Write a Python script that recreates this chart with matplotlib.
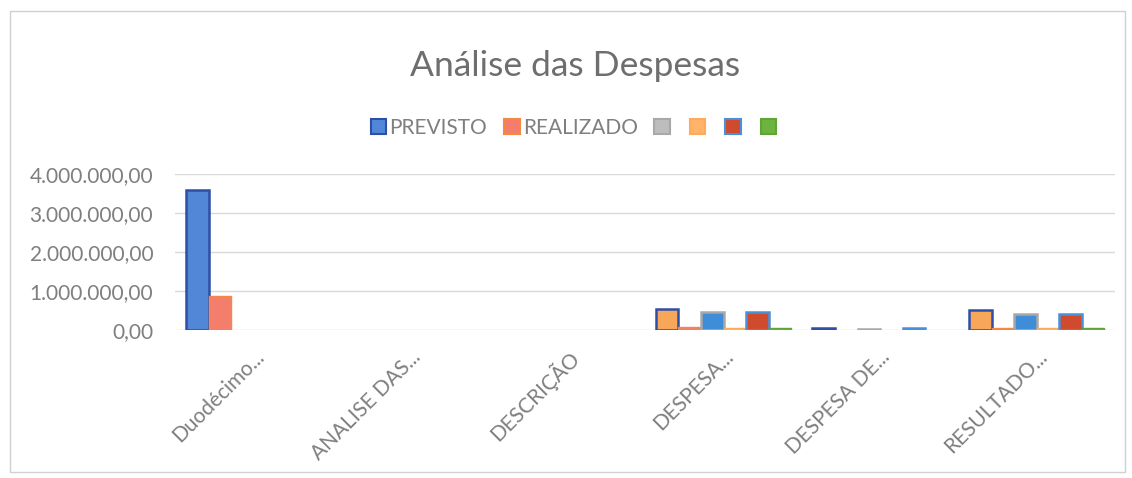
import matplotlib.pyplot as plt
import numpy as np
from matplotlib.patches import Patch, Rectangle
from matplotlib.ticker import FuncFormatter

plt.rcParams['font.family'] = ['Lato', 'DejaVu Sans']

categories = ['Duodécimo...', 'ANALISE DAS...', 'DESCRIÇÃO', 'DESPESA...', 'DESPESA DE...', 'RESULTADO...']
series_names = ['PREVISTO', 'REALIZADO', '', '', '', '']
previsto = [3580000, 0, 0, 540000, 35000, 500000]
realizado = [880000, 0, 0, 60000, 0, 50000]
serie3 = [0, 0, 0, 470000, 30000, 410000]
serie4 = [0, 0, 0, 50000, 0, 45000]
serie5 = [0, 0, 0, 450000, 35000, 410000]
serie6 = [0, 0, 0, 55000, 0, 45000]
values = [previsto, realizado, serie3, serie4, serie5, serie6]

# per-point fills as seen in the chart
blue, orange, grey, red, salmon, green = '#5287D8', '#F8A65A', '#B4B4B4', '#D04B2E', '#F47D6C', '#6DB33F'
faces = [
    [blue, blue, blue, orange, '#4A8FDA', orange],
    [salmon] * 6,
    ['#3F8DD8', '#3F8DD8', '#3F8DD8', '#3F8DD8', grey, '#3F8DD8'],
    ['#FFB469'] * 6,
    [red, red, red, red, '#4A8FDA', red],
    [green] * 6,
]
edges = ['#2E4FA6', '#F28A45', '#A8A8A8', '#FFA95A', '#4A8FDA', '#5EA437']
legend_faces = [blue, salmon, '#BDBDBD', '#FFB469', red, green]

fig = plt.figure(figsize=(11.32, 4.78), dpi=100)
fig.patches.append(Rectangle((0.009, 0.012), 0.985, 0.965, transform=fig.transFigure,
                             fill=False, edgecolor='#D0D0D0', linewidth=1))
ax = fig.add_axes([0.155, 0.31, 0.83, 0.326])

x = np.arange(len(categories))
w = 0.144
for i, vals in enumerate(values):
    idx = [j for j, v in enumerate(vals) if v > 0]
    ax.bar(x[idx] + (i - 2.5) * w, [vals[j] for j in idx], w,
           color=[faces[i][j] for j in idx], edgecolor=edges[i],
           linewidth=1.8 if i in (0, 2, 4) else 1.0, zorder=3)

ax.set_xlim(-0.5, len(categories) - 0.5)
ax.set_ylim(0, 4000000)
ax.set_yticks([0, 1000000, 2000000, 3000000, 4000000])
ax.yaxis.set_major_formatter(FuncFormatter(
    lambda v, p: f'{v:,.2f}'.replace(',', 'X').replace('.', ',').replace('X', '.')))
ax.grid(axis='y', color='#D9D9D9', linewidth=1, zorder=0)
for s in ax.spines.values():
    s.set_visible(False)
ax.tick_params(axis='both', length=0, colors='#7F7F7F', labelsize=15)
ax.tick_params(axis='y', pad=16)
ax.set_xticks(x)
ax.set_xticklabels(categories, rotation=45, ha='right', rotation_mode='anchor', fontsize=15)
ax.tick_params(axis='x', pad=12)

fig.text(0.508, 0.862, 'Análise das Despesas', ha='center', va='center', fontsize=25.5, color='#6E6E6E')

handles = [Patch(facecolor=legend_faces[i], edgecolor=edges[i], linewidth=1.5) for i in range(6)]
fig.legend(handles, series_names, loc='center', bbox_to_anchor=(0.508, 0.733), ncol=6, frameon=False,
           fontsize=15, labelcolor='#7F7F7F', handlelength=0.75, handleheight=0.75,
           handletextpad=0.15, columnspacing=0.8)

fig.savefig('out.png', dpi=100, facecolor='white')
